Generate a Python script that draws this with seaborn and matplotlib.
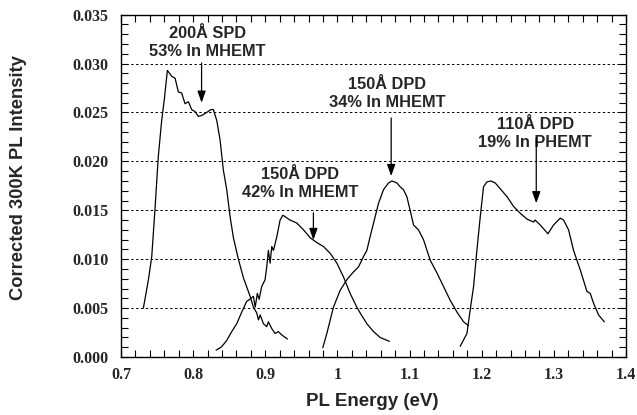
import matplotlib
matplotlib.use("Agg")
import matplotlib.pyplot as plt
import seaborn as sns
import numpy as np
import pandas as pd
from matplotlib.ticker import MultipleLocator

# ---- data ----
spd200_x = [0.731, 0.738, 0.7426, 0.747, 0.7517, 0.7564, 0.760, 0.7643, 0.7703, 0.775, 0.7795,
            0.784, 0.7888, 0.7934, 0.798, 0.8026, 0.8072, 0.8119, 0.8165, 0.8248, 0.828, 0.8327,
            0.8373, 0.8419, 0.8466, 0.8512, 0.8558, 0.8627, 0.8697, 0.879, 0.8835, 0.8882,
            0.8905, 0.893, 0.8974, 0.902, 0.9043, 0.909, 0.9136, 0.918, 0.9229, 0.9307]
spd200_y = [0.0050, 0.0079, 0.01025, 0.0150, 0.0205, 0.0242, 0.0263, 0.0293, 0.0287, 0.0285, 0.0271,
            0.0270, 0.0259, 0.0261, 0.0253, 0.0251, 0.0246, 0.0247, 0.0249, 0.0253, 0.0253, 0.0242,
            0.0222, 0.0191, 0.0171, 0.01435, 0.0122, 0.0100, 0.0081, 0.0062, 0.0051, 0.0045,
            0.0038, 0.0043, 0.0034, 0.0031, 0.0036, 0.0029, 0.0024, 0.0026, 0.00225, 0.00184]

dpd150a_x = [0.8318, 0.8396, 0.8466, 0.8535, 0.8604, 0.8674, 0.8743, 0.8766, 0.8835, 0.886, 0.889,
             0.8915, 0.895, 0.8997, 0.902, 0.9043, 0.9067, 0.909, 0.9113, 0.916, 0.9205, 0.9243,
             0.9344, 0.9437, 0.953, 0.9621, 0.9714, 0.9806, 0.990, 0.9992, 1.0083, 1.0176,
             1.0269, 1.0315, 1.0408, 1.050, 1.0592, 1.072]
dpd150a_y = [0.0007, 0.00105, 0.0017, 0.0026, 0.0034, 0.0046, 0.0057, 0.0058, 0.0062, 0.0051, 0.0065,
             0.0059, 0.0072, 0.0079, 0.0092, 0.0109, 0.0096, 0.0113, 0.0109, 0.0123, 0.0140, 0.0145,
             0.0140, 0.0137, 0.0130, 0.0122, 0.0117, 0.0113, 0.0106, 0.0096, 0.0082, 0.0065,
             0.0051, 0.0045, 0.0034, 0.0026, 0.0020, 0.0016]

dpd150b_x = [0.9797, 0.9853, 0.9945, 1.0037, 1.013, 1.0222, 1.0291, 1.036, 1.0408, 1.0453, 1.0523,
             1.0569, 1.0638, 1.0708, 1.0755, 1.0824, 1.087, 1.0916, 1.0962, 1.1008, 1.1055, 1.1123,
             1.1193, 1.1286, 1.1379, 1.1471, 1.1563, 1.1656, 1.1748, 1.1817]
dpd150b_y = [0.00095, 0.0024, 0.0051, 0.0068, 0.0079, 0.0087, 0.0092, 0.01025, 0.0109, 0.0123, 0.01435,
             0.0157, 0.0171, 0.0178, 0.0180, 0.0178, 0.0174, 0.0171, 0.0164, 0.0150, 0.0135, 0.0130,
             0.0120, 0.0099, 0.0086, 0.0072, 0.0058, 0.0046, 0.0036, 0.0032]

dpd110_x = [1.1702, 1.1795, 1.184, 1.1887, 1.1933, 1.198, 1.2025, 1.2071, 1.2127, 1.2187, 1.2257,
            1.235, 1.2441, 1.2534, 1.2627, 1.2718, 1.274, 1.2811, 1.2918, 1.2996, 1.3089, 1.3135,
            1.3204, 1.3273, 1.3366, 1.3459, 1.3505, 1.355, 1.362, 1.3699]
dpd110_y = [0.0011, 0.0024, 0.0048, 0.0072, 0.0109, 0.01435, 0.0174, 0.0179, 0.0180, 0.0178, 0.0172,
            0.0164, 0.0154, 0.0147, 0.0141, 0.0138, 0.0140, 0.0135, 0.0126, 0.0135, 0.0142, 0.0140,
            0.0130, 0.0109, 0.0089, 0.0067, 0.0065, 0.0055, 0.0043, 0.0036]

labels = ["200Å SPD\n53% In MHEMT", "150Å DPD\n42% In MHEMT",
          "150Å DPD\n34% In MHEMT", "110Å DPD\n19% In PHEMT"]
label_xy = [(0.8193, 0.03219), (0.9483, 0.01776), (1.0685, 0.02696), (1.2742, 0.02283)]
arrow_from = [(0.8117, 0.03006), (0.9667, 0.01475), (1.0745, 0.02444), (1.2756, 0.02239)]
arrow_to = [(0.8117, 0.0260), (0.9667, 0.01196), (1.0745, 0.0185), (1.2756, 0.01572)]

x_ticks = [0.7, 0.8, 0.9, 1.0, 1.1, 1.2, 1.3, 1.4]
x_ticklabels = ["0.7", "0.8", "0.9", "1", "1.1", "1.2", "1.3", "1.4"]
y_ticks = [0.0, 0.005, 0.010, 0.015, 0.020, 0.025, 0.030, 0.035]
y_ticklabels = ["0.000", "0.005", "0.010", "0.015", "0.020", "0.025", "0.030", "0.035"]

# ---- build ----
sns.set_style("ticks")
plt.rcParams["font.family"] = ["Liberation Sans", "DejaVu Sans"]

fig = plt.figure(figsize=(6.37, 4.15), dpi=100)
ax = fig.add_axes([121 / 637, 58 / 415, 505 / 637, 342.3 / 415])

series = [(spd200_x, spd200_y), (dpd150a_x, dpd150a_y), (dpd150b_x, dpd150b_y), (dpd110_x, dpd110_y)]
for i, (xs, ys) in enumerate(series):
    df = pd.DataFrame({"x": xs, "y": ys})
    sns.lineplot(data=df, x="x", y="y", ax=ax, color="black", lw=0.9, sort=False,
                 estimator=None, legend=False)

ax.set_xlim(0.7, 1.4)
ax.set_ylim(0.0, 0.035)
ax.set_xticks(x_ticks)
ax.set_xticklabels(x_ticklabels)
ax.set_yticks(y_ticks)
ax.set_yticklabels(y_ticklabels)
ax.xaxis.set_minor_locator(MultipleLocator(0.02))
ax.yaxis.set_minor_locator(MultipleLocator(0.001))
ax.tick_params(which="both", direction="in", top=True, right=True, length=5, width=0.8,
               color="black")
ax.tick_params(axis="y", pad=9)
ax.tick_params(axis="x", pad=7)
for lab in ax.get_xticklabels() + ax.get_yticklabels():
    lab.set_fontfamily("Liberation Serif")
    lab.set_fontweight("bold")
    lab.set_fontsize(11.5)
for s in ax.spines.values():
    s.set_color("black")
    s.set_linewidth(1.0)

for yv in y_ticks[1:-1]:
    ax.axhline(yv, color="black", lw=0.7, ls=(0, (2.5, 2.5)), zorder=0)

ax.set_xlabel("")
ax.set_ylabel("")
fig.text((302.7 + 442.3) / 2 / 637, (415 - 401) / 415, "PL Energy (eV)", ha="center", va="center",
         fontsize=13.5, fontweight="bold")
fig.text(19 / 637, (415 - 177.5) / 415, "Corrected 300K PL Intensity", ha="center", va="center",
         rotation=90, fontsize=13.2, fontweight="bold")

for lab, (tx, ty), a0, a1 in zip(labels, label_xy, arrow_from, arrow_to):
    ax.text(tx, ty, lab, ha="center", va="center", fontsize=11.8, fontweight="bold",
            linespacing=1.28)
    ax.annotate("", xy=a1, xytext=a0,
                arrowprops=dict(arrowstyle="-|>,head_length=0.7,head_width=0.25", color="black",
                                lw=0.9, shrinkA=0, shrinkB=0))

fig.savefig("out.png", dpi=100)
